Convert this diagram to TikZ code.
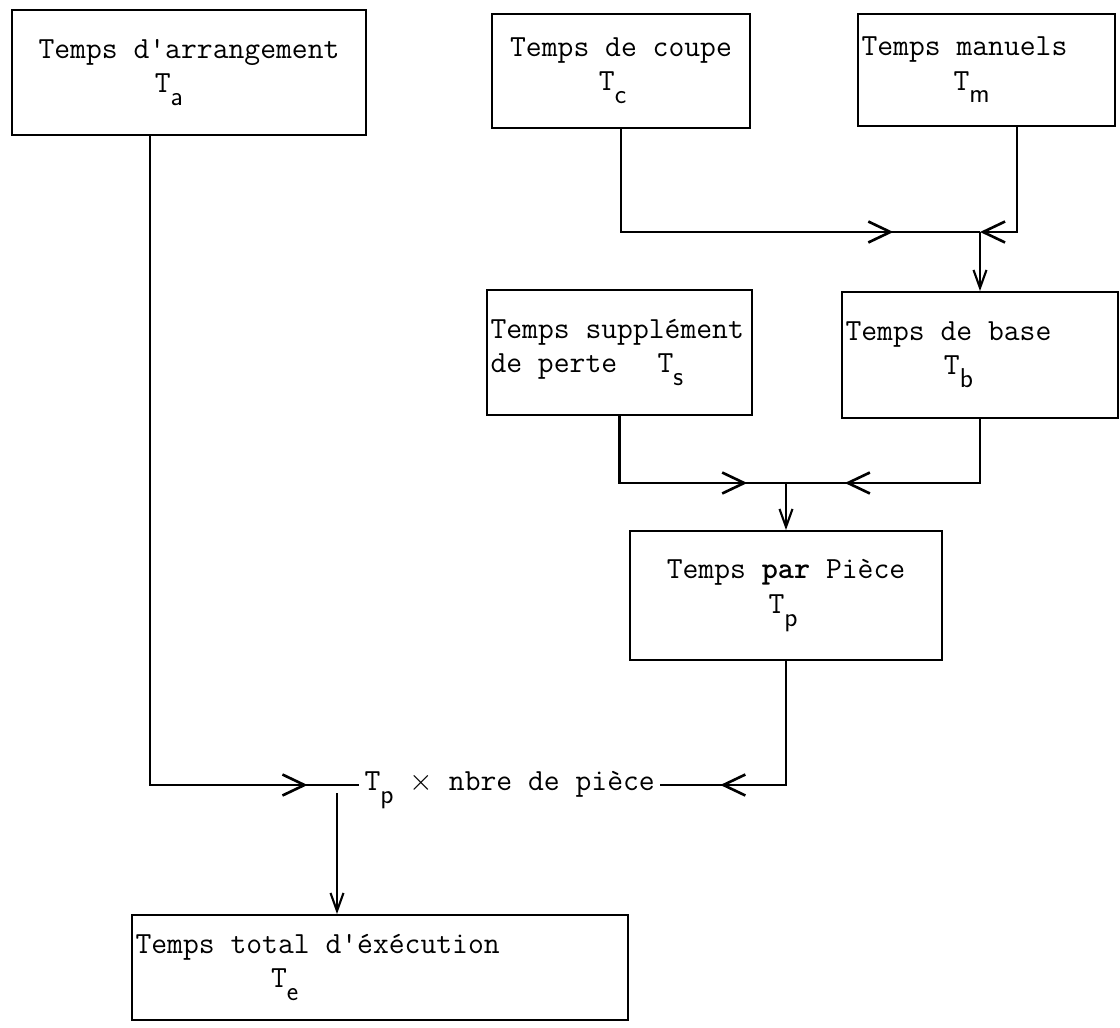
\documentclass[tikz,border=0pt]{standalone}
\usetikzlibrary{arrows.meta,calc,decorations.markings}
\newlength\px \setlength\px{0.02cm}
\newlength\chw \setlength\chw{9.19pt}
\newcommand\tsub[1]{\raisebox{-0.42em}{\sffamily\fontsize{15.5}{15.5}\selectfont #1}}
\newcommand\skipch[1]{\hspace*{#1\chw}}
\newcommand\typew{\ttfamily\fontsize{17.5}{19.5}\selectfont}
\tikzset{
  box/.style={draw, line width=1.1pt, inner sep=2pt, align=flush left, font=\typew},
  wire/.style={line width=1.2pt},
  bigbarb/.tip={Straight Barb[length=0.44cm,width=0.42cm,line width=1.5pt]},
  smallbarb/.tip={Straight Barb[length=0.36cm,width=0.26cm,line width=1.2pt]},
  tipat/.style={postaction={decorate},
    decoration={markings,mark=at position #1 with {\arrow{bigbarb}}}}
}
\begin{document}
\begin{tikzpicture}[x=0.02cm,y=-0.02cm]
  \useasboundingbox (0,0) rectangle (1120,1028);

  % boxes
  \node[box, minimum width=354\px, minimum height=125\px] (a) at (189,72.5)
    {Temps d'arrangement\\\skipch{7.2}T\tsub{a}};
  \node[box, minimum width=258\px, minimum height=114\px] (c) at (621,71)
    {Temps de coupe\\\skipch{5.5}T\tsub{c}};
  \node[box, minimum width=257\px, minimum height=112\px, text width=250\px] (m) at (986.5,70)
    {Temps manuels\\\skipch{5.7}T\tsub{m}};
  \node[box, minimum width=265\px, minimum height=125\px, text width=258\px] (s) at (619.5,352.5)
    {Temps supplément\\de perte\skipch{2.5}T\tsub{s}};
  \node[box, minimum width=276\px, minimum height=126\px, text width=269\px] (b) at (980,355)
    {Temps de base\\\skipch{6.1}T\tsub{b}};
  \node[box, minimum width=312\px, minimum height=129\px] (p) at (786,595.5)
    {Temps \textbf{par} Pièce\\\skipch{6.3}T\tsub{p}};
  \node[box, minimum width=496\px, minimum height=105\px, text width=489\px] (e) at (380,967.5)
    {Temps total d'éxécution\\\skipch{8.4}T\tsub{e}};

  % junctions
  \coordinate (jcm) at (980,232);
  \coordinate (jsb) at (786,483);
  \coordinate (jpe) at (337,785);

  \node[anchor=west, inner sep=3pt, font=\typew]
    (tp) at (359,790) {T\tsub{p} $\times$ nbre de pièce};

  % connectors
  \draw[wire, tipat=0.8125] (c.south) |- (jcm);
  \draw[wire, -{bigbarb}] ($(m.south west)+(160,0)$) |- (jcm);
  \draw[wire, -{smallbarb}] (jcm) -- (b.north);

  \draw[wire, tipat=0.834] (s.south) |- (jsb);
  \draw[wire, tipat=0.772] (b.south) |- (jsb);
  \draw[wire, -{smallbarb}] (jsb) -- (p.north);

  \draw[wire, tipat=0.94] ($(a.south)+(-39,0)$) |- (tp.west |- jpe);
  \draw[wire, tipat=0.76] (p.south) |- (tp.east |- jpe);
  \draw[wire, -{smallbarb}] ($(jpe)+(0,8)$) -- (jpe |- e.north);
\end{tikzpicture}
\end{document}
